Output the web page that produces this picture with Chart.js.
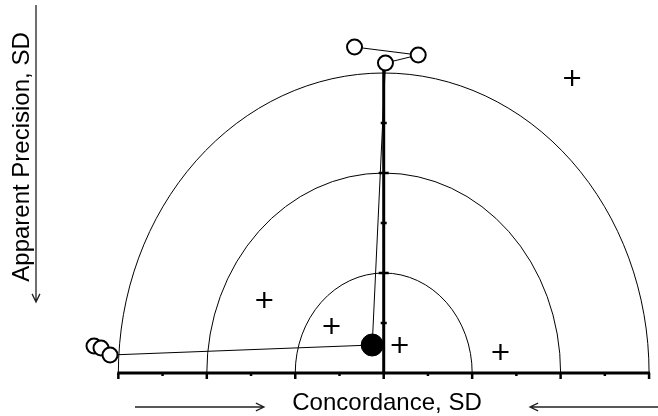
<!DOCTYPE html>
<html>
<head>
<meta charset="utf-8">
<script src="https://cdn.jsdelivr.net/npm/chart.js@4"></script>
<style>
  html, body { margin: 0; padding: 0; background: #fff; }
  #wrap { width: 658px; height: 416px; }
</style>
</head>
<body>
<div id="wrap"><canvas id="c" width="658" height="416"></canvas></div>
<script>
// trajectory: open circles joined by a thin line (black dot sits in the middle of it)
var pathX = [-3.275, -3.196, -3.094, -0.13, 0.02, 0.39, -0.33];
var pathY = [0.27, 0.25, 0.18, 0.28, 3.10, 3.18, 3.26];
var pathR = [7.5, 7.5, 7.5, 0, 7.5, 7.5, 7.5];

// filled reference point
var dotX = [-0.13];
var dotY = [0.28];

// plus markers
var plusX = [2.13, -1.35, -0.59, 0.18, 1.32];
var plusY = [2.95, 0.73, 0.47, 0.28, 0.21];

// reference circles (SD) and axis ticks
var rings = [1, 2, 3];
var xTicks = [-3, -2.5, -2, -1.5, -1, -0.5, 0, 0.5, 1, 1.5, 2, 2.5, 3];
var yTicks = [0.5, 1, 1.5, 2, 2.5];

var xLabel = 'Concordance, SD';
var yLabel = 'Apparent Precision, SD';

function pts(xs, ys){
  var out = [];
  for (var i = 0; i < xs.length; i++) out.push({x: xs[i], y: ys[i]});
  return out;
}

function arrow(ctx, x1, y1, x2, y2){
  var a = Math.atan2(y2 - y1, x2 - x1);
  ctx.beginPath();
  ctx.moveTo(x1, y1); ctx.lineTo(x2, y2);
  ctx.moveTo(x2 - 9*Math.cos(a - 0.45), y2 - 9*Math.sin(a - 0.45));
  ctx.lineTo(x2, y2);
  ctx.lineTo(x2 - 9*Math.cos(a + 0.45), y2 - 9*Math.sin(a + 0.45));
  ctx.stroke();
}

var decor = {
  id: 'decor',
  beforeDatasetsDraw: function(chart){
    var ctx = chart.ctx, xs = chart.scales.x, ys = chart.scales.y;
    var cx = xs.getPixelForValue(0), cy = ys.getPixelForValue(0);
    ctx.save();
    ctx.strokeStyle = '#000';
    // rings
    ctx.lineWidth = 1;
    rings.forEach(function(r){
      var rx = xs.getPixelForValue(r) - cx;
      var ry = cy - ys.getPixelForValue(r);
      ctx.beginPath();
      ctx.ellipse(cx, cy, rx, ry, 0, Math.PI, 2*Math.PI);
      ctx.stroke();
    });
    // x axis
    ctx.lineWidth = 3;
    ctx.beginPath();
    ctx.moveTo(xs.getPixelForValue(-3) - 1, cy);
    ctx.lineTo(xs.getPixelForValue(3) + 1, cy);
    ctx.stroke();
    ctx.lineWidth = 2.5;
    xTicks.forEach(function(t){
      var px = xs.getPixelForValue(t);
      var len = (t % 1 === 0) ? 6 : 3;
      ctx.beginPath();
      ctx.moveTo(px, cy); ctx.lineTo(px, cy + len);
      ctx.stroke();
    });
    // y axis
    ctx.lineWidth = 3;
    ctx.beginPath();
    ctx.moveTo(cx, cy); ctx.lineTo(cx, ys.getPixelForValue(3.05));
    ctx.stroke();
    ctx.lineWidth = 2.5;
    yTicks.forEach(function(t){
      var py = ys.getPixelForValue(t);
      var w = (t % 1 === 0) ? 5 : 3;
      ctx.beginPath();
      ctx.moveTo(cx - w, py); ctx.lineTo(cx + w, py);
      ctx.stroke();
    });
    // titles and arrows
    ctx.fillStyle = '#000';
    ctx.font = '24px "Liberation Sans", Arial, sans-serif';
    ctx.textAlign = 'center';
    ctx.textBaseline = 'alphabetic';
    ctx.fillText(xLabel, 387, 410);
    ctx.save();
    ctx.translate(29, 157);
    ctx.rotate(-Math.PI/2);
    ctx.fillText(yLabel, 0, 0);
    ctx.restore();
    ctx.strokeStyle = '#222';
    ctx.lineWidth = 1.3;
    arrow(ctx, 36, 5, 36, 302);
    arrow(ctx, 135, 407, 264, 407);
    arrow(ctx, 660, 407, 530, 407);
    ctx.restore();
  }
};

var ctx = document.getElementById('c').getContext('2d');
var chart = new Chart(ctx, {
  type: 'scatter',
  data: {
    datasets: [{
      label: 'path',
      data: pts(pathX, pathY),
      showLine: true,
      borderColor: '#000',
      borderWidth: 1,
      pointRadius: pathR,
      pointBackgroundColor: '#fff',
      pointBorderColor: '#000',
      pointBorderWidth: 2,
      clip: false,
      order: 2
    }, {
      label: 'dot',
      data: pts(dotX, dotY),
      pointRadius: 11,
      pointBackgroundColor: '#000',
      pointBorderColor: '#000',
      clip: false,
      order: 1
    }, {
      label: 'plus',
      data: pts(plusX, plusY),
      pointStyle: 'cross',
      pointRadius: 8,
      pointBorderColor: '#000',
      pointBorderWidth: 2.2,
      clip: false,
      order: 0
    }]
  },
  options: {
    responsive: false,
    animation: false,
    layout: { padding: 0, autoPadding: false },
    plugins: { legend: { display: false }, tooltip: { enabled: false } },
    scales: {
      x: { type: 'linear', display: false, min: -4.338, max: 3.101 },
      y: { type: 'linear', display: false, min: -0.43, max: 3.73 }
    }
  },
  plugins: [decor]
});
</script>
</body>
</html>
